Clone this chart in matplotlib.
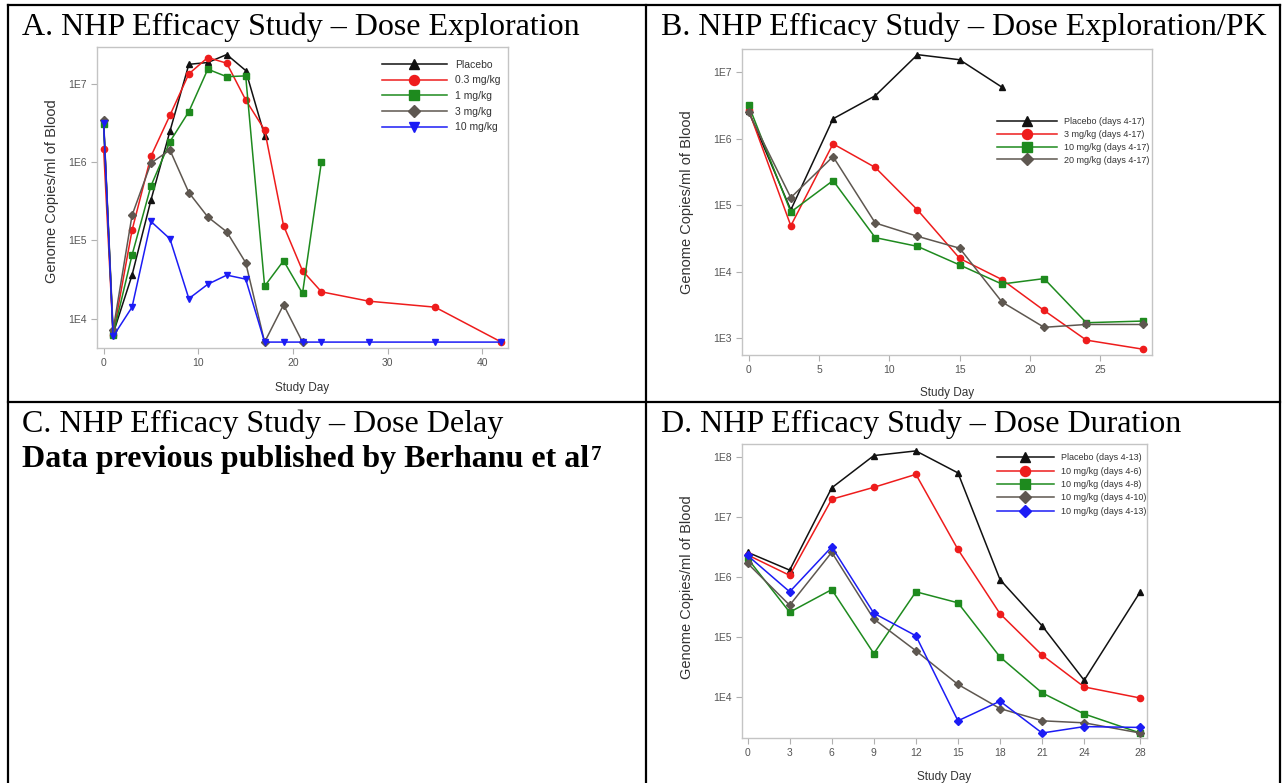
import matplotlib.pyplot as plt
from matplotlib.lines import Line2D
from matplotlib.text import Annotation
from matplotlib.ticker import NullLocator

# ---- panel A: dose exploration ----
a_days_pl = [0, 1, 3, 5, 7, 9, 11, 13, 15, 17]
a_placebo = [3.3e6, 6.4e3, 3.6e4, 3.3e5, 2.5e6, 1.8e7, 1.9e7, 2.4e7, 1.5e7, 2.2e6]
a_days_03 = [0, 1, 3, 5, 7, 9, 11, 13, 15, 17, 19, 21, 23, 28, 35, 42]
a_03 = [1.5e6, 6.2e3, 1.35e5, 1.2e6, 4.0e6, 1.36e7, 2.2e7, 1.86e7, 6.3e6, 2.6e6,
        1.55e5, 4.1e4, 2.2e4, 1.67e4, 1.4e4, 5.0e3]
a_days_1 = [0, 1, 3, 5, 7, 9, 11, 13, 15, 17, 19, 21, 23]
a_1 = [3.1e6, 6.2e3, 6.5e4, 5.0e5, 1.84e6, 4.46e6, 1.56e7, 1.25e7, 1.28e7,
       2.6e4, 5.5e4, 2.1e4, 1.02e6]
a_days_3 = [0, 1, 3, 5, 7, 9, 11, 13, 15, 17, 19, 21]
a_3 = [3.5e6, 7.1e3, 2.1e5, 9.8e5, 1.44e6, 4.1e5, 2.0e5, 1.29e5, 5.2e4, 5.0e3, 1.5e4, 5.0e3]
a_days_10 = [0, 1, 3, 5, 7, 9, 11, 13, 15, 17, 19, 21, 23, 28, 35, 42]
a_10 = [3.2e6, 5.9e3, 1.4e4, 1.75e5, 1.05e5, 1.8e4, 2.75e4, 3.6e4, 3.2e4,
        5e3, 5e3, 5e3, 5e3, 5e3, 5e3, 5e3]

# ---- panel B: dose exploration / PK ----
b_days = [0, 3, 6, 9, 12, 15, 18, 21, 24, 28]
b_placebo = [2.6e6, 8.5e4, 2.0e6, 4.45e6, 1.85e7, 1.55e7, 6.0e6]
b_3 = [2.7e6, 4.9e4, 8.4e5, 3.7e5, 8.5e4, 1.58e4, 7.6e3, 2.6e3, 9.3e2, 6.8e2]
b_10 = [3.2e6, 7.9e4, 2.35e5, 3.25e4, 2.4e4, 1.26e4, 6.5e3, 7.85e3, 1.7e3, 1.8e3]
b_20 = [2.5e6, 1.3e5, 5.4e5, 5.4e4, 3.4e4, 2.25e4, 3.5e3, 1.45e3, 1.6e3, 1.6e3]

# ---- panel D: dose duration ----
d_days = [0, 3, 6, 9, 12, 15, 18, 21, 24, 28]
d_placebo = [2.6e6, 1.31e6, 3.1e7, 1.07e8, 1.28e8, 5.5e7, 9.1e5, 1.54e5, 1.9e4, 5.7e5]
d_4_6 = [2.35e6, 1.07e6, 2.0e7, 3.16e7, 5.2e7, 2.9e6, 2.45e5, 5.0e4, 1.47e4, 9.6e3]
d_4_8 = [2.05e6, 2.6e5, 6.2e5, 5.3e4, 5.7e5, 3.73e5, 4.65e4, 1.17e4, 5.2e3, 2.5e3]
d_4_10 = [1.7e6, 3.4e5, 2.6e6, 2.0e5, 5.9e4, 1.62e4, 6.4e3, 4.0e3, 3.7e3, 2.5e3]
d_4_13 = [2.3e6, 5.7e5, 3.2e6, 2.5e5, 1.05e5, 4.0e3, 8.5e3, 2.5e3, 3.2e3, 3.1e3]

BLACK, RED, GREEN, GRAY, BLUE = '#111111', '#ee1c1c', '#1e8a1e', '#5e5750', '#1c1cf5'

plt.rcParams['font.family'] = 'Liberation Sans'

W, H = 1285, 783
fig = plt.figure(figsize=(W / 100, H / 100), dpi=100)


def box(x0, y0, x1, y1):
    return [x0 / W, 1 - y1 / H, (x1 - x0) / W, (y1 - y0) / H]


def hline(x0, x1, y):
    fig.add_artist(Line2D([x0 / W, x1 / W], [1 - y / H, 1 - y / H], color='black', lw=1.6))


def vline(x, y0, y1):
    fig.add_artist(Line2D([x / W, x / W], [1 - y0 / H, 1 - y1 / H], color='black', lw=1.6))


# table grid
hline(8, 1280, 5)
hline(8, 1280, 402)
vline(8, 5, 783)
vline(646, 5, 783)
vline(1280, 5, 783)

serif = 'Liberation Serif'
TS = 23
fig.text(22 / W, 1 - 35 / H, 'A. NHP Efficacy Study \u2013 Dose Exploration',
         family=serif, size=TS, va='baseline')
fig.text(661 / W, 1 - 35 / H, 'B. NHP Efficacy Study \u2013 Dose Exploration/PK',
         family=serif, size=TS, va='baseline')
fig.text(22 / W, 1 - 432 / H, 'C. NHP Efficacy Study \u2013 Dose Delay',
         family=serif, size=TS, va='baseline')
t = fig.text(22 / W, 1 - 467 / H, 'Data previous published by Berhanu et al',
             family=serif, size=TS, weight='bold', va='baseline')
fig.add_artist(Annotation('7', xy=(1, 1), xycoords=t, xytext=(1, 0),
                          textcoords='offset points', family=serif, size=15,
                          weight='bold', ha='left', va='top'))
fig.text(661 / W, 1 - 432 / H, 'D. NHP Efficacy Study \u2013 Dose Duration',
         family=serif, size=TS, va='baseline')


def setup(ax, xlim, ylim, xticks, yticks, ylabs, ylab_x, xlab_y, ylab_y=0.5):
    ax.set_yscale('log')
    ax.set_xlim(xlim)
    ax.set_ylim(ylim)
    ax.set_xticks(xticks)
    ax.set_yticks(yticks, ylabs)
    ax.yaxis.set_minor_locator(NullLocator())
    for s in ax.spines.values():
        s.set_color('#c4c4c4')
        s.set_linewidth(1.0)
    ax.tick_params(colors='#b0b0b0', labelcolor='#555555', labelsize=7.5, length=4, width=0.8)
    ax.set_xlabel('Study Day', size=8.5, color='#333333', va='center')
    ax.set_ylabel('Genome Copies/ml of Blood', size=10.5, color='#333333', va='center')
    ax.xaxis.set_label_coords(0.5, xlab_y)
    ax.yaxis.set_label_coords(ylab_x, ylab_y)


kw = dict(lw=1.1, ms=4.5)

# panel A
ax = fig.add_axes(box(97, 47, 508, 348))
ax.plot(a_days_pl, a_placebo, color=BLACK, marker='^', label='Placebo', **kw)
ax.plot(a_days_03, a_03, color=RED, marker='o', label='0.3 mg/kg', **kw)
ax.plot(a_days_1, a_1, color=GREEN, marker='s', label='1 mg/kg', **kw)
ax.plot(a_days_3, a_3, color=GRAY, marker='D', label='3 mg/kg', lw=1.1, ms=4)
ax.plot(a_days_10, a_10, color=BLUE, marker='v', label='10 mg/kg', **kw)
setup(ax, (-0.7, 42.7), (4200, 3.0e7), [0, 10, 20, 30, 40],
      [1e4, 1e5, 1e6, 1e7], ['1E4', '1E5', '1E6', '1E7'], -0.1095, -0.133, 0.52)
ax.legend(loc='upper left', bbox_to_anchor=(382 / W, 1 - 59.5 / H),
          bbox_transform=fig.transFigure, frameon=False, borderpad=0, borderaxespad=0,
          prop={'size': 7.5}, handlelength=6.2, handletextpad=0.8,
          labelspacing=0.55, markerscale=1.6, labelcolor='#333333')

# panel B
ax = fig.add_axes(box(742, 49, 1152, 355))
ax.plot(b_days[:len(b_placebo)], b_placebo, color=BLACK, marker='^',
        label='Placebo (days 4-17)', **kw)
ax.plot(b_days, b_3, color=RED, marker='o', label='3 mg/kg (days 4-17)', **kw)
ax.plot(b_days, b_10, color=GREEN, marker='s', label='10 mg/kg (days 4-17)', **kw)
ax.plot(b_days, b_20, color=GRAY, marker='D', label='20 mg/kg (days 4-17)', lw=1.1, ms=4)
setup(ax, (-0.47, 28.67), (555, 2.25e7), [0, 5, 10, 15, 20, 25],
      [1e3, 1e4, 1e5, 1e6, 1e7], ['1E3', '1E4', '1E5', '1E6', '1E7'], -0.134, -0.124)
ax.legend(loc='upper left', bbox_to_anchor=(997 / W, 1 - 117.5 / H),
          bbox_transform=fig.transFigure, frameon=False, borderpad=0, borderaxespad=0,
          prop={'size': 6.5}, handlelength=6.6, handletextpad=0.8,
          labelspacing=0.41, markerscale=1.6, labelcolor='#333333')

# panel D
ax = fig.add_axes(box(742, 444, 1147, 738))
ax.plot(d_days, d_placebo, color=BLACK, marker='^', label='Placebo (days 4-13)', **kw)
ax.plot(d_days, d_4_6, color=RED, marker='o', label='10 mg/kg (days 4-6)', **kw)
ax.plot(d_days, d_4_8, color=GREEN, marker='s', label='10 mg/kg (days 4-8)', **kw)
ax.plot(d_days, d_4_10, color=GRAY, marker='D', label='10 mg/kg (days 4-10)', lw=1.1, ms=4)
ax.plot(d_days, d_4_13, color=BLUE, marker='D', label='10 mg/kg (days 4-13)', lw=1.1, ms=4)
setup(ax, (-0.4, 28.48), (2065, 1.67e8), d_days,
      [1e4, 1e5, 1e6, 1e7, 1e8], ['1E4', '1E5', '1E6', '1E7', '1E8'], -0.136, -0.133, 0.514)
ax.legend(loc='upper left', bbox_to_anchor=(997 / W, 1 - 453.5 / H),
          bbox_transform=fig.transFigure, frameon=False, borderpad=0, borderaxespad=0,
          prop={'size': 6.5}, handlelength=6.3, handletextpad=0.8,
          labelspacing=0.48, markerscale=1.6, labelcolor='#333333')

fig.savefig('out.png', dpi=100)
